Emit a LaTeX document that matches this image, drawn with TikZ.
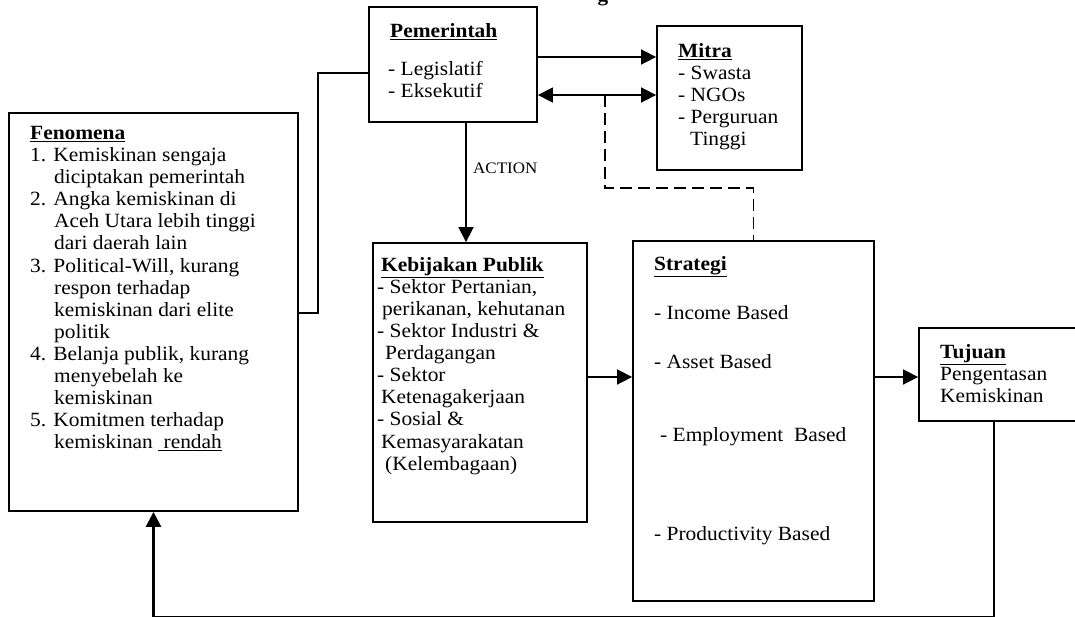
\documentclass[tikz,border=0pt]{standalone}
\usepackage{fontspec}
\setmainfont{Liberation Serif}[FakeStretch=1.06]
\usetikzlibrary{arrows.meta}
\begin{document}
\begin{tikzpicture}[x=1pt,y=-1pt,
  box/.style={draw,line width=1.8pt,inner sep=0pt},
  txt/.style={anchor=north west,inner sep=0pt,align=left,font=\fontsize{20.2}{22.1}\selectfont},
  conn/.style={line width=1.6pt},
  thinconn/.style={line width=1.2pt},
  thickconn/.style={line width=2.6pt},
  tip/.style={-{Triangle[length=15pt,width=15pt]}},
  dtip/.style={{Triangle[length=15pt,width=15pt]}-{Triangle[length=15pt,width=15pt]}},
  dashline/.style={line width=1.6pt,dash pattern=on 12pt off 6pt}
]
\useasboundingbox (0,0) rectangle (1075,616);

% title fragment (cut off at the top)
\node[anchor=base,inner sep=0pt,font=\fontsize{20}{24}\selectfont\bfseries] (ttl) at (603,1) {g};

% boxes
\node[box,minimum width=168pt,minimum height=115pt] (pem) at (453,64.5) {};
\node[box,minimum width=145pt,minimum height=144pt] (mitra) at (729.5,98) {};
\node[box,minimum width=289pt,minimum height=398pt] (fen) at (153.5,312) {};
\node[box,minimum width=214pt,minimum height=279pt] (keb) at (480,382.5) {};
\node[box,minimum width=241pt,minimum height=360pt] (strat) at (753.5,421) {};
\node[box,minimum width=171pt,minimum height=93pt] (tuj) at (1004.5,374.5) {};

% texts
\node[txt] (tpem) at (388,23) {\hspace*{2pt}\underline{\textbf{Pemerintah}}\\[16pt]- Legislatif\\- Eksekutif};
\node[txt] (tmit) at (678,43) {\underline{\textbf{Mitra}}\\- Swasta\\- NGOs\\- Perguruan\\\hspace*{12pt}Tinggi};
\node[txt] (tfen) at (30,126) {\underline{\textbf{Fenomena}}\\
1. Kemiskinan sengaja\\
\hspace*{24pt}diciptakan pemerintah\\
2. Angka kemiskinan di\\
\hspace*{24pt}Aceh Utara lebih tinggi\\
\hspace*{24pt}dari daerah lain\\
3. Political-Will, kurang\\
\hspace*{24pt}respon terhadap\\
\hspace*{24pt}kemiskinan dari elite\\
\hspace*{24pt}politik\\
4. Belanja publik, kurang\\
\hspace*{24pt}menyebelah ke\\
\hspace*{24pt}kemiskinan\\
5. Komitmen terhadap\\
\hspace*{24pt}kemiskinan \underline{\ rendah}};
\node[txt] (tkeb) at (377,257) {\hspace*{4pt}\underline{\textbf{Kebijakan Publik}}\\
- Sektor Pertanian,\\
\hspace*{5pt}perikanan, kehutanan\\
- Sektor Industri \&\\
\hspace*{8pt}Perdagangan\\
- Sektor\\
\hspace*{4pt}Ketenagakerjaan\\
- Sosial \&\\
\hspace*{4pt}Kemasyarakatan\\
\hspace*{8pt}(Kelembagaan)};
\node[txt] (tstr) at (654,256) {\underline{\textbf{Strategi}}\\[27pt]
- Income Based\\[27pt]
- Asset Based\\[51pt]
\hspace*{6pt}- Employment\ \ Based\\[77pt]
- Productivity Based};
\node[txt] (ttuj) at (940,344) {\underline{\textbf{Tujuan}}\\Pengentasan\\Kemiskinan};

% helper coordinates
\coordinate (y1) at (0,57);
\coordinate (y2) at (0,95);
\coordinate (y3) at (0,377);
\coordinate (ax) at (466,0);
\coordinate (p1) at (318,73);
\coordinate (f1) at (0,313);
\coordinate (d0) at (605,95);
\coordinate (dm) at (753.5,188);
\coordinate (b1) at (994,617);
\coordinate (b2) at (153.5,617);

% connectors
\draw[conn,tip] (pem.east |- y1) -- (mitra.west |- y1);
\draw[conn,dtip] (pem.east |- y2) -- (mitra.west |- y2);
\draw[dashline] (d0) -- (d0 |- dm) -- (dm) -- (strat.north);
\draw[conn,tip] (pem.south -| ax) -- (keb.north -| ax);
\node[anchor=base west,inner sep=0pt,font=\fontsize{16}{19}\selectfont] (act) at (473,173) {ACTION};
\draw[thinconn] (pem.west |- p1) -- (p1) -- (p1 |- f1) -- (fen.east |- f1);
\draw[conn,tip] (keb.east |- y3) -- (strat.west |- y3);
\draw[conn,tip] (strat.east |- y3) -- (tuj.west |- y3);
\draw[thickconn,tip] (tuj.south -| b1) -- (b1) -- (b2) -- (fen.south -| b2);
\end{tikzpicture}
\end{document}
